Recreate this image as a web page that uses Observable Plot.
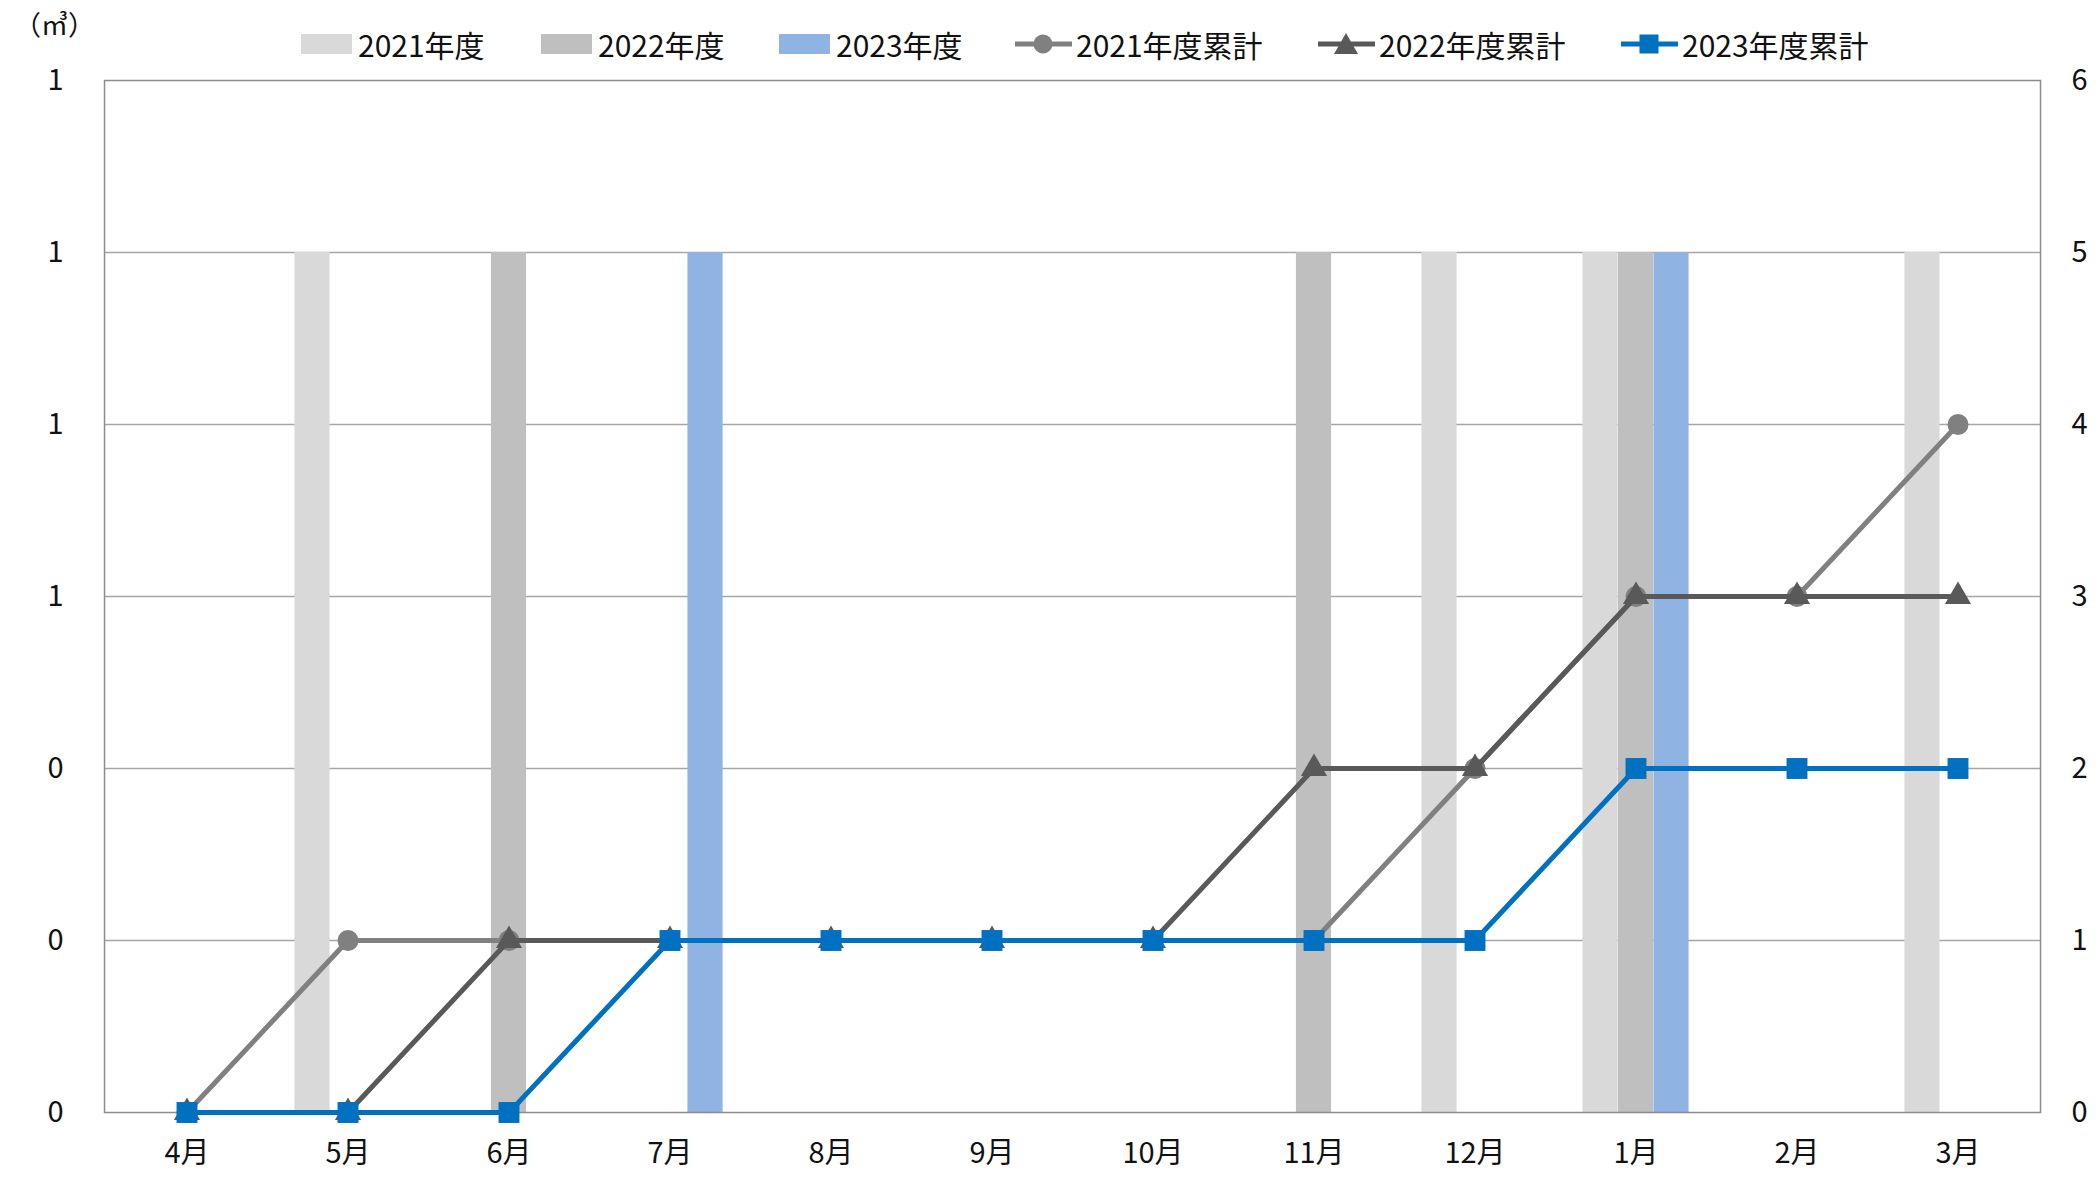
<!DOCTYPE html>
<html>
<head>
<meta charset="utf-8">
<script src="https://cdn.jsdelivr.net/npm/d3@7"></script>
<script src="https://cdn.jsdelivr.net/npm/@observablehq/plot@0.6"></script>
<style>
  html, body { margin: 0; padding: 0; background: #fff; }
  body { width: 2099px; height: 1182px; overflow: hidden; font-family: "Noto Sans CJK JP", "Noto Sans", sans-serif; color: #111; }
  #header { position: relative; width: 2099px; height: 64px; }
  #unit { position: absolute; left: 14px; top: 6px; font-size: 27px; line-height: 36px; }
  .item { position: absolute; top: 26px; height: 36px; display: flex; align-items: center; font-size: 30px; line-height: 36px; white-space: nowrap; }
  .sw { display: inline-block; width: 51px; height: 20px; margin-right: 6px; }
  .ln { display: inline-block; margin-right: 4px; }
</style>
</head>
<body>
<div id="header">
  <div id="unit">（㎥）</div>
</div>
<div id="chart"></div>
<script>
// ---- data ----
const months = ["4月","5月","6月","7月","8月","9月","10月","11月","12月","1月","2月","3月"];
const monthly2021 = [0,1,0,0,0,0,0,0,1,1,0,1];
const monthly2022 = [0,0,1,0,0,0,0,1,0,1,0,0];
const monthly2023 = [0,0,0,1,0,0,0,0,0,1,0,0];
const cumulative2021 = [0,1,1,1,1,1,1,1,2,3,3,4];
const cumulative2022 = [0,0,1,1,1,1,1,2,2,3,3,3];
const cumulative2023 = [0,0,0,1,1,1,1,1,1,2,2,2];
const barSeriesNames = ["2021年度","2022年度","2023年度"];
const lineSeriesNames = ["2021年度累計","2022年度累計","2023年度累計"];
const leftAxisMax = 1.2;   // left axis (monthly, ㎥)
const rightAxisMax = 6;    // right axis (cumulative)
const rightTicks = [0,1,2,3,4,5,6];
const gridTicks = [1,2,3,4,5];

// ---- styles ----
const barColors = ["#d9d9d9","#bfbfbf","#8fb4e3"];
const lineColors = ["#808080","#595959","#0070c0"];
const symbols = ["circle","triangle","square"];
const symbolR = [10.5, 9.7, 11.8];

const ratio = rightAxisMax / leftAxisMax;
const toRows = (vals) => months.map((m, i) => ({month: m, v: vals[i]}));
const monthlySeries = [monthly2021, monthly2022, monthly2023].map(toRows);
const cumulativeSeries = [cumulative2021, cumulative2022, cumulative2023].map(toRows);

// ---- legend ----
const header = document.getElementById("header");
const legendLefts = [301, 541, 779, 1015, 1318, 1621];
barSeriesNames.forEach((name, i) => {
  const d = document.createElement("div");
  d.className = "item";
  d.style.left = legendLefts[i] + "px";
  d.innerHTML = `<span class="sw" style="background:${barColors[i]}"></span><span>${name}</span>`;
  header.appendChild(d);
});
lineSeriesNames.forEach((name, i) => {
  const d = document.createElement("div");
  d.className = "item";
  d.style.left = legendLefts[3 + i] + "px";
  let marker;
  if (symbols[i] === "circle") marker = `<circle cx="28" cy="14" r="9.5" fill="${lineColors[i]}"/>`;
  else if (symbols[i] === "triangle") marker = `<path d="M28,3 L40,24 L16,24 Z" fill="${lineColors[i]}"/>`;
  else marker = `<rect x="18.5" y="4.5" width="19" height="19" fill="${lineColors[i]}"/>`;
  d.innerHTML = `<svg class="ln" width="57" height="28"><line x1="0" y1="14" x2="57" y2="14" stroke="${lineColors[i]}" stroke-width="5"/>${marker}</svg><span>${name}</span>`;
  header.appendChild(d);
});

// ---- chart ----
const barWidth = 35.5;
const bandWidth = (2099 - 104 - 59) / months.length;
const inset = (bandWidth - barWidth) / 2;
const barOffsets = [-barWidth, 0, barWidth];

const marks = [
  Plot.ruleY(gridTicks, {stroke: "#a6a6a6", strokeWidth: 1.5}),
];
monthlySeries.forEach((rows, i) => {
  marks.push(Plot.barY(rows.filter(d => d.v > 0), {
    x: "month", y1: 0, y2: d => d.v * ratio,
    fill: barColors[i], insetLeft: inset, insetRight: inset, dx: barOffsets[i]
  }));
});
marks.push(Plot.frame({stroke: "#8c8c8c", strokeWidth: 1.5}));
cumulativeSeries.forEach((rows, i) => {
  marks.push(Plot.line(rows, {x: "month", y: "v", stroke: lineColors[i], strokeWidth: 5}));
  marks.push(Plot.dot(rows, {x: "month", y: "v", fill: lineColors[i], stroke: "none", symbol: symbols[i], r: symbolR[i]}));
});
marks.push(
  Plot.axisX({tickSize: 0, tickPadding: 30, label: null}),
  Plot.axisY(rightTicks, {anchor: "left", tickSize: 0, tickPadding: 41, label: null,
    tickFormat: d => String(Math.round(d / ratio))}),
  Plot.axisY(rightTicks, {anchor: "right", tickSize: 0, tickPadding: 31, label: null,
    tickFormat: d => String(d)})
);

const chart = Plot.plot({
  width: 2099,
  height: 1118,
  marginTop: 16,
  marginBottom: 70,
  marginLeft: 104,
  marginRight: 59,
  style: {fontFamily: '"Noto Sans CJK JP", "Noto Sans", sans-serif', fontSize: "29px", color: "#111", background: "#fff", overflow: "visible"},
  x: {type: "band", domain: months, padding: 0},
  y: {domain: [0, rightAxisMax]},
  marks
});
document.getElementById("chart").appendChild(chart);
</script>
</body>
</html>
